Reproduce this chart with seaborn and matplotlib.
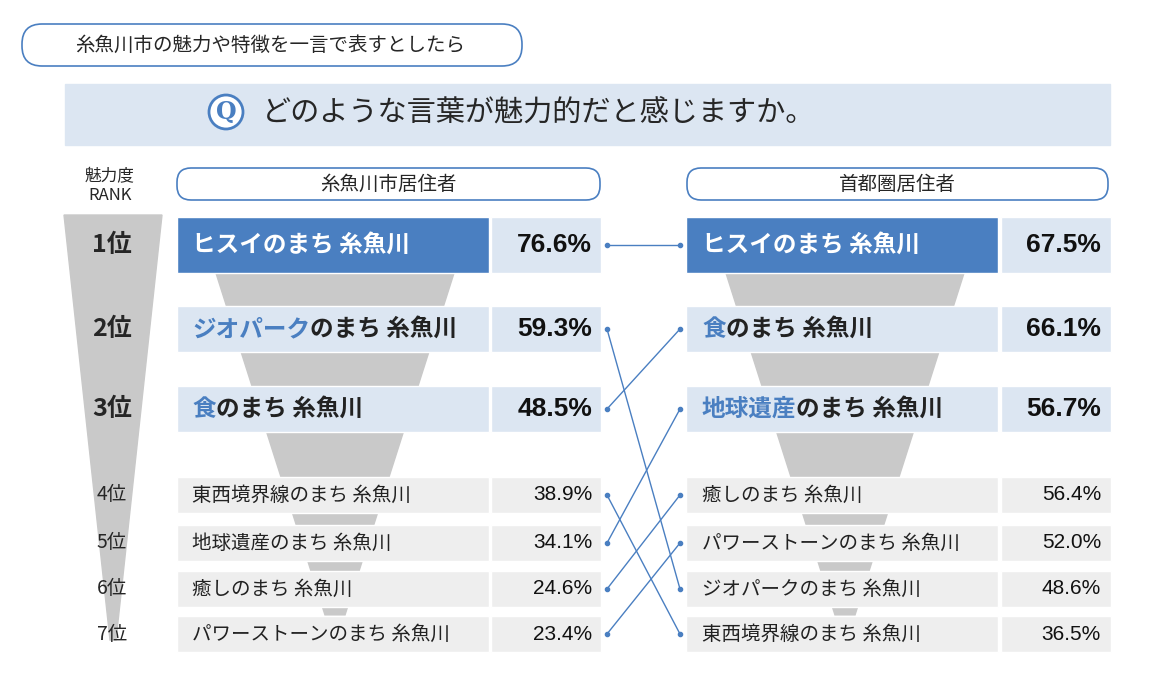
import matplotlib
matplotlib.use("Agg")
import matplotlib.pyplot as plt
import seaborn as sns
from matplotlib.patches import FancyBboxPatch, Polygon, Circle

sns.set_theme(style="white")
plt.rcParams["font.family"] = "Noto Sans CJK JP"

ranks = ["1位", "2位", "3位", "4位", "5位", "6位", "7位"]
left_hl = ["", "ジオパーク", "食", "", "", "", ""]
left_rest = ["ヒスイのまち 糸魚川", "のまち 糸魚川", "のまち 糸魚川", "東西境界線のまち 糸魚川",
             "地球遺産のまち 糸魚川", "癒しのまち 糸魚川", "パワーストーンのまち 糸魚川"]
left_values = [76.6, 59.3, 48.5, 38.9, 34.1, 24.6, 23.4]
right_hl = ["", "食", "地球遺産", "", "", "", ""]
right_rest = ["ヒスイのまち 糸魚川", "のまち 糸魚川", "のまち 糸魚川", "癒しのまち 糸魚川",
              "パワーストーンのまち 糸魚川", "ジオパークのまち 糸魚川", "東西境界線のまち 糸魚川"]
right_values = [67.5, 66.1, 56.7, 56.4, 52.0, 48.6, 36.5]
left_to_right = [0, 5, 1, 6, 2, 3, 4]

yc = [245, 329, 409, 495, 543, 589, 634]
hh = [56, 46, 46, 36, 36, 36, 36]
fill = ["#4a7fc1", "#dce6f2", "#dce6f2", "#eeeeee", "#eeeeee", "#eeeeee", "#eeeeee"]
vfill = ["#dce6f2", "#dce6f2", "#dce6f2", "#eeeeee", "#eeeeee", "#eeeeee", "#eeeeee"]

fig = plt.figure(figsize=(11.57, 6.77), dpi=100)
ax = fig.add_axes([0, 0, 1, 1])
ax.set_xlim(0, 1157); ax.set_ylim(677, 0); ax.axis("off")

grey = "#c9c9c9"
ax.add_patch(Polygon([[64, 215], [162, 215], [116, 640], [110, 640]], color=grey, zorder=0))
for x0 in (0, 510):
    ax.add_patch(Polygon([[215 + x0, 270], [455 + x0, 270], [345 + x0, 615], [325 + x0, 615]], color=grey, zorder=0))

ax.add_patch(FancyBboxPatch((22, 24), 500, 42, boxstyle="round,pad=0,rounding_size=20",
                            fc="white", ec="#4a7fc1", lw=1.2, zorder=3))
ax.text(270, 45, "糸魚川市の魅力や特徴を一言で表すとしたら", ha="center", va="center", fontsize=14, zorder=4)
ax.add_patch(plt.Rectangle((65, 84), 1045, 61, color="#dce6f2", zorder=1))
ax.add_patch(Circle((226, 112), 17, fc="white", ec="#4a7fc1", lw=2, zorder=3))
ax.text(226, 112, "Q", ha="center", va="center", fontsize=17, color="#4a7fc1", fontweight="bold",
        family="DejaVu Serif", zorder=4)
ax.text(262, 114, "どのような言葉が魅力的だと感じますか。", ha="left", va="center", fontsize=21, zorder=4)
ax.text(110, 186, "魅力度\nRANK", ha="center", va="center", fontsize=12, linespacing=1.1)
for x0, x1, t in [(177, 600, "糸魚川市居住者"), (687, 1108, "首都圏居住者")]:
    ax.add_patch(FancyBboxPatch((x0, 168), x1 - x0, 32, boxstyle="round,pad=0,rounding_size=14",
                                fc="white", ec="#4a7fc1", lw=1.2, zorder=3))
    ax.text((x0 + x1) / 2, 184, t, ha="center", va="center", fontsize=14, zorder=4)

for lx, vx in [(177, 491), (686, 1001)]:
    ax.barh(yc, [312] * 7, left=lx, height=hh, color=fill, zorder=2)
    ax.barh(yc, [110] * 7, left=vx, height=hh, color=vfill, zorder=2)

fig.canvas.draw()
r = fig.canvas.get_renderer()

def label(x, y, hl, rest, i):
    big = i < 3
    fs = 17 if big else 14
    fw = "bold" if big else "normal"
    col = "white" if i == 0 else "#222222"
    cx = x
    if hl:
        t = ax.text(cx, y, hl, ha="left", va="center", fontsize=fs, fontweight=fw, color="#4a7fc1", zorder=4)
        cx += t.get_window_extent(r).width
    ax.text(cx, y, rest, ha="left", va="center", fontsize=fs, fontweight=fw, color=col, zorder=4)

for i in range(7):
    big = i < 3
    ax.text(112, yc[i], ranks[i], ha="center", va="center", fontsize=18 if big else 14,
            fontweight="bold" if big else "normal", zorder=4)
    label(192, yc[i], left_hl[i], left_rest[i], i)
    label(702, yc[i], right_hl[i], right_rest[i], i)
    for vx, v in [(592, left_values[i]), (1101, right_values[i])]:
        ax.text(vx, yc[i], f"{v:.1f}%", ha="right", va="center", fontsize=19 if big else 15,
                fontweight="bold" if big else "normal", color="#111111", family="Liberation Sans", zorder=4)
    j = left_to_right[i]
    ax.plot([607, 680], [yc[i], yc[j]], color="#4a7fc1", lw=1, zorder=3)
    ax.plot([607, 680], [yc[i], yc[j]], "o", color="#4a7fc1", ms=3, zorder=3)

fig.savefig("out.png", dpi=100)
